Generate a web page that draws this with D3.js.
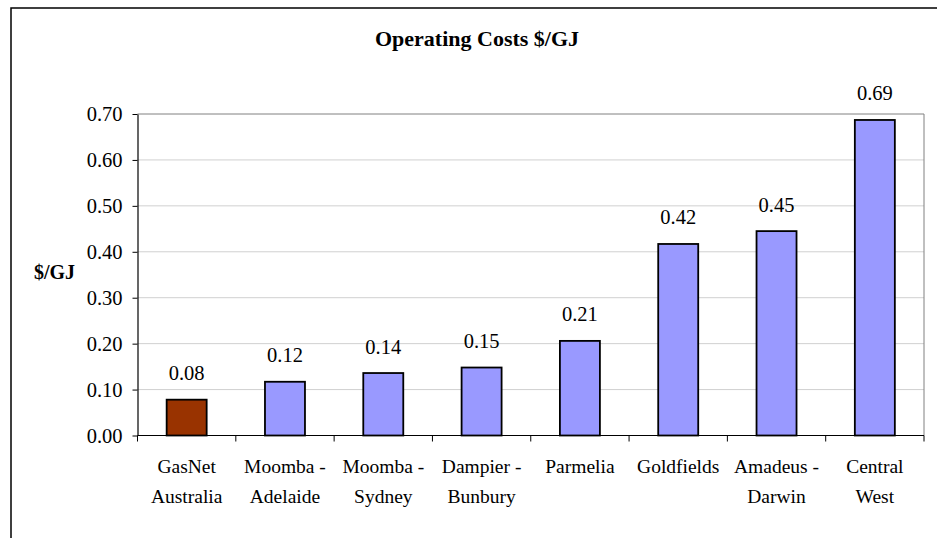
<!DOCTYPE html>
<html><head><meta charset="utf-8">
<script src="https://cdn.jsdelivr.net/npm/d3@7"></script>
<style>body{margin:0;background:#fff}svg{display:block}text{font-family:"Liberation Serif","Times New Roman",serif}</style>
</head><body>
<script>
const categories = [["GasNet","Australia"],["Moomba -","Adelaide"],["Moomba -","Sydney"],["Dampier -","Bunbury"],["Parmelia"],["Goldfields"],["Amadeus -","Darwin"],["Central","West"]];
const values = [0.078, 0.117, 0.136, 0.148, 0.206, 0.417, 0.445, 0.687];
const labels = ["0.08","0.12","0.14","0.15","0.21","0.42","0.45","0.69"];
const colors = ["#993300","#9999FF","#9999FF","#9999FF","#9999FF","#9999FF","#9999FF","#9999FF"];
const yTicks = [0,0.1,0.2,0.3,0.4,0.5,0.6,0.7];

const W=937,H=538;
const svg=d3.select("body").append("svg").attr("width",W).attr("height",H);
svg.append("rect").attr("x",11).attr("y",8).attr("width",W).attr("height",H).attr("fill","none").attr("stroke","#000").attr("stroke-width",1.5);

const L=137.5,R=924,T=114,B=435.5;
const x=d3.scaleBand().domain(d3.range(categories.length)).range([L,R]).paddingInner(0).paddingOuter(0);
const y=d3.scaleLinear().domain([0,0.7]).range([B,T]);

// grid
svg.append("g").selectAll("line").data(yTicks.slice(1,-1)).join("line")
 .attr("x1",L).attr("x2",R).attr("y1",d=>y(d)).attr("y2",d=>y(d)).attr("stroke","#d0d0d0").attr("stroke-width",1);
// plot border top/right
svg.append("path").attr("d",`M${L},${T}H${R}V${B}`).attr("fill","none").attr("stroke","#808080").attr("stroke-width",1);

// bars
const bw=40;
svg.append("g").selectAll("rect").data(values).join("rect")
 .attr("x",(d,i)=>x(i)+x.bandwidth()/2-bw/2).attr("width",bw)
 .attr("y",d=>y(d)).attr("height",d=>B-y(d))
 .attr("fill",(d,i)=>colors[i]).attr("stroke","#000").attr("stroke-width",1.8);
svg.append("g").selectAll("text").data(values).join("text")
 .attr("x",(d,i)=>x(i)+x.bandwidth()/2).attr("y",d=>y(d)-19.5)
 .attr("text-anchor","middle").attr("font-size",20.5).text((d,i)=>labels[i]);

// y axis
const ya=svg.append("g").attr("transform",`translate(${L},0)`).call(d3.axisLeft(y).tickValues(yTicks).tickFormat(d3.format(".2f")).tickSize(5).tickSizeOuter(0));
ya.select(".domain").attr("stroke","#000").attr("stroke-width",1.2);
ya.selectAll(".tick line").attr("stroke","#000");
ya.selectAll(".tick text").attr("font-size",20.5).attr("fill","#000").attr("x",-15).attr("dy","0.33em");

// x axis
const xa=svg.append("g").attr("transform",`translate(0,${B})`);
xa.append("line").attr("x1",L).attr("x2",R).attr("stroke","#000").attr("stroke-width",1.2);
xa.selectAll("line.t").data(d3.range(categories.length+1)).join("line").attr("class","t")
 .attr("x1",i=>i<categories.length?x(i):R).attr("x2",i=>i<categories.length?x(i):R).attr("y1",0).attr("y2",6).attr("stroke","#000");
const xl=svg.append("g").selectAll("text").data(categories).join("text")
 .attr("text-anchor","middle").attr("font-size",19.5);
xl.each(function(d,i){
  const t=d3.select(this);
  d.forEach((s,j)=>t.append("tspan").attr("x",x(i)+x.bandwidth()/2).attr("y",B+37.5+j*30).text(s));
});

// titles
svg.append("text").attr("x",477).attr("y",46).attr("text-anchor","middle").attr("font-size",22).attr("font-weight","bold").text("Operating Costs $/GJ");
svg.append("text").attr("x",54.5).attr("y",279).attr("text-anchor","middle").attr("font-size",20).attr("font-weight","bold").text("$/GJ");
</script>
</body></html>
